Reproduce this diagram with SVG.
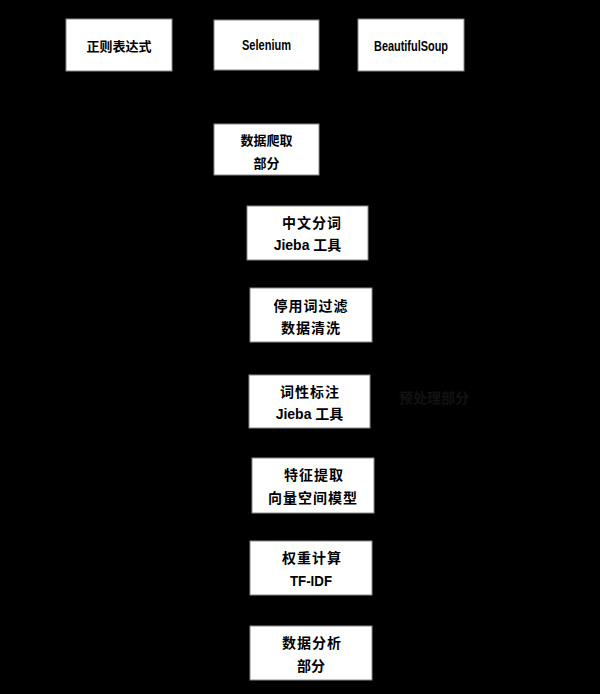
<svg xmlns="http://www.w3.org/2000/svg" width="600" height="694" viewBox="0 0 600 694">
<defs>
<style>
.box{fill:#fff;stroke:#8a8a8a;stroke-width:1}
.t{font-family:"Liberation Sans","Noto Sans CJK SC",sans-serif;font-weight:bold;font-size:14px;fill:#000;text-anchor:middle}
.s{font-size:13px}
.w{letter-spacing:1px}
.l{font-family:"Liberation Sans","Noto Sans CJK SC",sans-serif;font-weight:bold;font-size:14px;fill:#000;text-anchor:middle}
.c{stroke:#000;stroke-width:1;fill:none}
.lab{font-family:"Liberation Sans","Noto Sans CJK SC",sans-serif;font-weight:bold;font-size:14px;fill:#121212}
</style>
<marker id="ah" markerWidth="8" markerHeight="8" refX="7" refY="4" orient="auto" markerUnits="userSpaceOnUse"><path d="M0,0 L8,4 L0,8 z" fill="#000"/></marker>
</defs>
<rect x="0" y="0" width="600" height="694" fill="#000"/>
<g id="connectors">
<path class="c" d="M119,71 V97 H267 V123" marker-end="url(#ah)"/>
<path class="c" d="M267,70 V123" marker-end="url(#ah)"/>
<path class="c" d="M411,71 V97 H267" />
<path class="c" d="M267,175 V205" marker-end="url(#ah)"/>
<path class="c" d="M308,260 V287" marker-end="url(#ah)"/>
<path class="c" d="M311,342 V374" marker-end="url(#ah)"/>
<path class="c" d="M310,428 V457" marker-end="url(#ah)"/>
<path class="c" d="M311,513 V540" marker-end="url(#ah)"/>
<path class="c" d="M311,595 V625" marker-end="url(#ah)"/>
</g>
<g id="n1"><rect class="box" x="66" y="19" width="106" height="52"/><text class="t s" x="119" y="51">正则表达式</text></g>
<g id="n2"><rect class="box" x="214" y="20" width="105" height="50"/><text class="l" x="266.5" y="50" textLength="49" lengthAdjust="spacingAndGlyphs">Selenium</text></g>
<g id="n3"><rect class="box" x="358" y="19" width="106" height="52"/><text class="l" x="411" y="51" textLength="74" lengthAdjust="spacingAndGlyphs">BeautifulSoup</text></g>
<g id="n4"><rect class="box" x="214" y="124" width="105" height="51"/><text class="t s" x="266.5" y="145">数据爬取</text><text class="t s" x="266.5" y="168">部分</text></g>
<g id="n5"><rect class="box" x="247" y="206" width="121" height="54"/><text class="t w" x="312" y="228">中文分词</text><text class="t" x="307.5" y="250">Jieba 工具</text></g>
<g id="n6"><rect class="box" x="250" y="288" width="122" height="54"/><text class="t w" x="311" y="311">停用词过滤</text><text class="t w" x="311" y="333">数据清洗</text></g>
<g id="n7"><rect class="box" x="249" y="375" width="121" height="53"/><text class="t w" x="310" y="397">词性标注</text><text class="t" x="309.5" y="419">Jieba 工具</text></g>
<g id="n8"><rect class="box" x="252" y="458" width="122" height="55"/><text class="t w" x="314" y="480">特征提取</text><text class="t w" x="313" y="503">向量空间模型</text></g>
<g id="n9"><rect class="box" x="250" y="541" width="122" height="54"/><text class="t w" x="312" y="563">权重计算</text><text class="l" x="311" y="586" textLength="42" lengthAdjust="spacingAndGlyphs">TF-IDF</text></g>
<g id="n10"><rect class="box" x="250" y="626" width="122" height="54"/><text class="t w" x="312" y="648">数据分析</text><text class="t" x="311" y="671">部分</text></g>
<text class="lab" x="399" y="403">预处理部分</text>
</svg>
